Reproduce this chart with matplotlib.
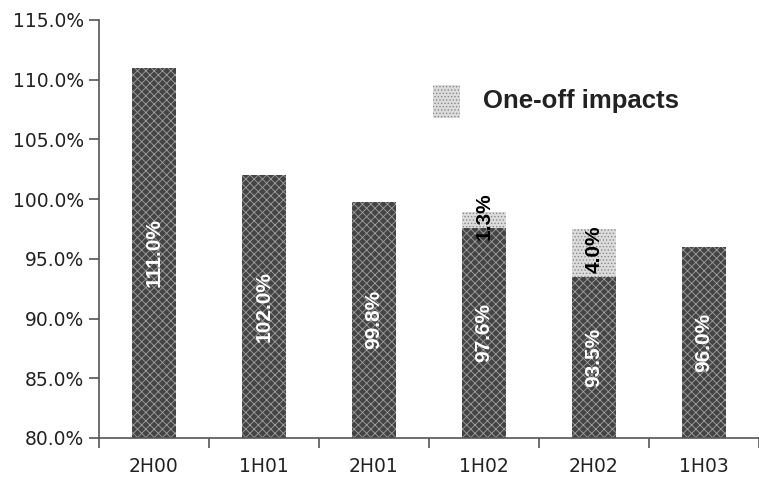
import matplotlib
matplotlib.use("Agg")
import matplotlib.pyplot as plt
import numpy as np
from matplotlib.patches import Rectangle

plt.rcParams['font.family'] = ['Liberation Sans', 'DejaVu Sans']
plt.rcParams['hatch.linewidth'] = 0.6

categories = ["2H00", "1H01", "2H01", "1H02", "2H02", "1H03"]
base_values = [111.0, 102.0, 99.8, 97.6, 93.5, 96.0]
oneoff_values = [0.0, 0.0, 0.0, 1.3, 4.0, 0.0]
yticks = [80, 85, 90, 95, 100, 105, 110, 115]
ymin, ymax = 80, 115

fig = plt.figure(figsize=(7.59, 4.82), dpi=100)
ax = fig.add_axes([99/759, 44/482, 660/759, 418/482])

x = np.arange(len(categories))
w = 0.4
dark_face = '#444444'
dark_hatch = '#a0a0a0'
light_face = '#dcdcdc'
light_hatch = '#8a8a8a'

ax.bar(x, base_values, width=w, color=dark_face, edgecolor=dark_hatch,
       hatch='xxxx', linewidth=0, zorder=2)
ax.bar(x, oneoff_values, bottom=base_values, width=w, color=light_face,
       edgecolor=light_hatch, hatch='.....', linewidth=0, zorder=2)

ax.set_ylim(ymin, ymax)
ax.set_xlim(-0.5, len(categories) - 0.5)

for i, v in enumerate(base_values):
    ymid = (ymin + v) / 2
    ax.text(i, ymid, f"{v:.1f}%", rotation=90, ha='center', va='center',
            color='white', fontsize=15, fontweight='bold', zorder=3)
for i, (b, o) in enumerate(zip(base_values, oneoff_values)):
    if o > 0:
        ax.text(i, b + o / 2 + 0.3, f"{o:.1f}%", rotation=90, ha='center', va='center',
                color='black', fontsize=15, fontweight='bold', zorder=3)

tick_font = dict(family='DejaVu Sans', size=13.5)
ax.set_yticks(yticks)
ax.set_yticklabels([f"{t:.1f}%" for t in yticks], color='#222222', **tick_font)
ax.set_xticks(x)
ax.set_xticklabels(categories, color='#222222', **tick_font)
ax.set_xticks(np.arange(-0.5, len(categories), 1.0), minor=True)
ax.tick_params(axis='x', which='major', length=0, pad=14)
ax.tick_params(axis='x', which='minor', length=7, width=1.2, color='#555555', direction='out')
ax.tick_params(axis='y', length=7, width=1.2, color='#555555', direction='out', pad=4)

for s in ['top', 'right']:
    ax.spines[s].set_visible(False)
for s in ['left', 'bottom']:
    ax.spines[s].set_color('#555555')
    ax.spines[s].set_linewidth(1.2)

# legend
lp = Rectangle((433/759, (482-118)/482), 27/759, 33/482, transform=fig.transFigure,
               facecolor=light_face, edgecolor=light_hatch, hatch='.....', linewidth=0)
fig.patches.append(lp)
fig.text(483/759, (482-101)/482, "One-off impacts", fontsize=18.5, fontweight='bold',
         va='center', ha='left', color='#222222')

fig.savefig("out.png", dpi=100)
